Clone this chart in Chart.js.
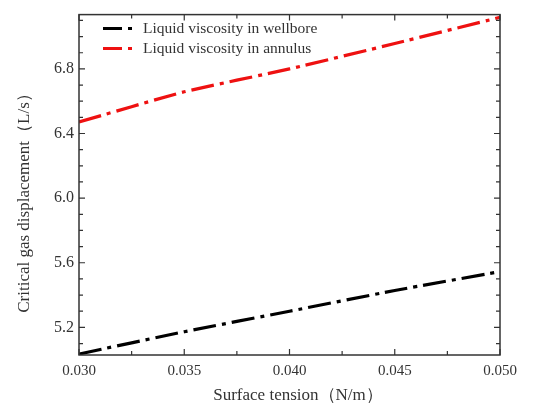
<!DOCTYPE html>
<html lang="en">
<head>
    <meta charset="UTF-8">
    <title>Critical gas displacement vs surface tension</title>
    <script src="https://cdn.jsdelivr.net/npm/chart.js"></script>
    <style>
        html, body { margin: 0; padding: 0; background: #ffffff; }
        #wrap { width: 544px; height: 408px; position: relative; }
    </style>
</head>
<body>
    <div id="wrap"><canvas id="chart"></canvas></div>

    <script>
        // surface tension (N/m)
        const tension = [0.030, 0.035, 0.040, 0.045, 0.050];
        // critical gas displacement (L/s)
        const wellbore = [5.035, 5.173, 5.300, 5.428, 5.545];
        const annulus = [6.471, 6.658, 6.800, 6.957, 7.119];

        const seriesNames = ['Liquid viscosity in wellbore', 'Liquid viscosity in annulus'];
        const xMajor = [0.030, 0.035, 0.040, 0.045, 0.050];
        const yMajor = [5.2, 5.6, 6.0, 6.4, 6.8];
        const xTitle = 'Surface tension（N/m）';
        const yTitle = 'Critical gas displacement（L/s）';

        const FONT = '"Liberation Serif", "Times New Roman", serif';
        const INK = '#333333';
        const DASH = [23, 6, 4, 6];

        // frame, inward ticks on all four sides, axis titles and the inside legend
        const framePlugin = {
            id: 'frame',
            afterDatasetsDraw(chart) {
                const { ctx, chartArea: a, scales } = chart;
                const xs = scales.x, ys = scales.y;
                ctx.save();
                ctx.strokeStyle = INK;
                ctx.lineWidth = 1.5;
                ctx.strokeRect(a.left, a.top, a.right - a.left, a.bottom - a.top);

                ctx.lineWidth = 1.2;
                for (let i = 0; i <= 8; i++) {
                    const v = 0.030 + i * 0.0025;
                    const px = xs.getPixelForValue(v);
                    const len = i % 2 === 0 ? 6 : 4;
                    ctx.beginPath();
                    ctx.moveTo(px, a.bottom); ctx.lineTo(px, a.bottom - len);
                    ctx.moveTo(px, a.top); ctx.lineTo(px, a.top + len);
                    ctx.stroke();
                }
                for (let k = 51; k <= 71; k++) {
                    const py = ys.getPixelForValue(k / 10);
                    const len = k % 4 === 0 ? 6 : 4;
                    ctx.beginPath();
                    ctx.moveTo(a.left, py); ctx.lineTo(a.left + len, py);
                    ctx.moveTo(a.right, py); ctx.lineTo(a.right - len, py);
                    ctx.stroke();
                }

                // axis titles
                ctx.fillStyle = INK;
                ctx.font = '17px ' + FONT;
                ctx.textAlign = 'center';
                ctx.textBaseline = 'middle';
                ctx.fillText(xTitle, 298, 396);
                ctx.save();
                ctx.translate(25, 199);
                ctx.rotate(-Math.PI / 2);
                ctx.fillText(yTitle, 0, 0);
                ctx.restore();

                // legend
                ctx.font = '15.5px ' + FONT;
                ctx.textAlign = 'left';
                chart.data.datasets.forEach((ds, i) => {
                    const y = a.top + 14 + i * 20;
                    ctx.strokeStyle = ds.borderColor;
                    ctx.lineWidth = 3;
                    ctx.setLineDash([19, 6, 4, 50]);
                    ctx.beginPath();
                    ctx.moveTo(a.left + 24, y);
                    ctx.lineTo(a.left + 53, y);
                    ctx.stroke();
                    ctx.setLineDash([]);
                    ctx.fillStyle = INK;
                    ctx.fillText(ds.label, a.left + 64, y);
                });
                ctx.restore();
            }
        };

        const ctx = document.getElementById('chart').getContext('2d');
        new Chart(ctx, {
            type: 'line',
            data: {
                labels: tension,
                datasets: [
                    {
                        label: seriesNames[0],
                        data: tension.map((t, i) => ({ x: t, y: wellbore[i] })),
                        borderColor: '#000000',
                        borderWidth: 3.2,
                        borderDash: DASH,
                        pointRadius: 0,
                        tension: 0.2
                    },
                    {
                        label: seriesNames[1],
                        data: tension.map((t, i) => ({ x: t, y: annulus[i] })),
                        borderColor: '#ee1111',
                        borderWidth: 3.2,
                        borderDash: DASH,
                        pointRadius: 0,
                        tension: 0.2
                    }
                ]
            },
            options: {
                responsive: true,
                maintainAspectRatio: false,
                animation: false,
                layout: { autoPadding: false, padding: { left: 0, right: 44, top: 10, bottom: 0 } },
                plugins: {
                    legend: { display: false },
                    tooltip: { enabled: false }
                },
                scales: {
                    x: {
                        type: 'linear',
                        min: 0.030,
                        max: 0.050,
                        grid: { display: false, drawTicks: false },
                        border: { display: false },
                        afterBuildTicks: s => { s.ticks = xMajor.map(v => ({ value: v })); },
                        afterFit: s => { s.height = 53; },
                        ticks: {
                            padding: 7,
                            maxRotation: 0,
                            color: INK,
                            font: { family: FONT, size: 15 },
                            callback: v => Number(v).toFixed(3)
                        }
                    },
                    y: {
                        type: 'linear',
                        min: 5.029,
                        max: 7.136,
                        grid: { display: false, drawTicks: false },
                        border: { display: false },
                        afterBuildTicks: s => { s.ticks = yMajor.map(v => ({ value: v })); },
                        afterFit: s => { s.width = 79; },
                        ticks: {
                            padding: 5,
                            color: INK,
                            font: { family: FONT, size: 16 },
                            callback: v => Number(v).toFixed(1)
                        }
                    }
                }
            },
            plugins: [framePlugin]
        });
    </script>
</body>
</html>
